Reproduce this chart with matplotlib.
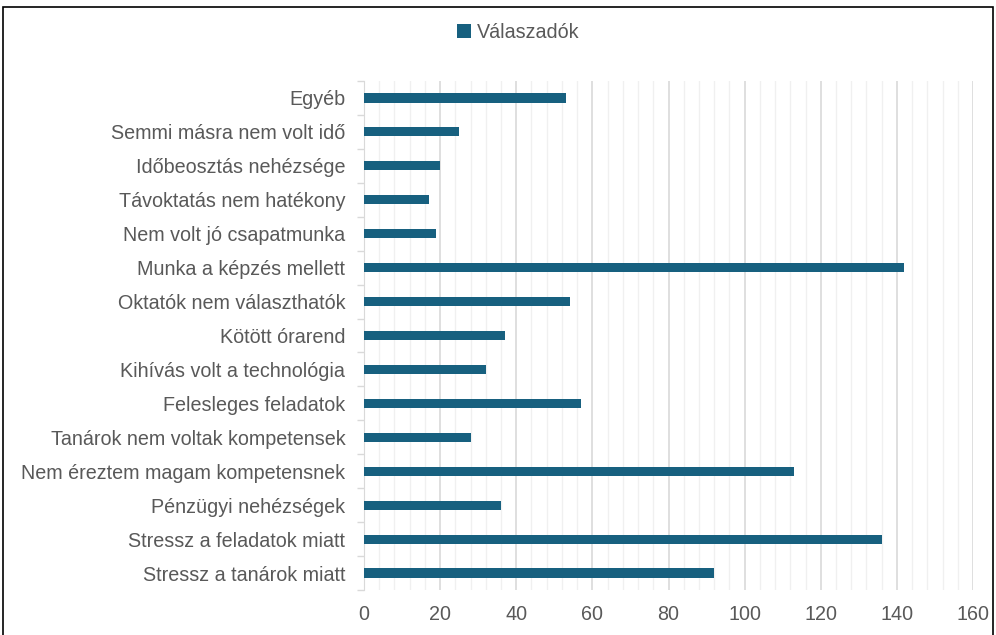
import matplotlib
matplotlib.use("Agg")
import matplotlib.pyplot as plt
from matplotlib.ticker import MultipleLocator
from matplotlib.patches import Rectangle
from matplotlib import font_manager as fm

names = [f.name for f in fm.fontManager.ttflist]
fam = "Liberation Sans Narrow" if "Liberation Sans Narrow" in names else "Liberation Sans"
plt.rcParams['font.family'] = [fam, 'DejaVu Sans']

categories = ["Egyéb", "Semmi másra nem volt idő", "Időbeosztás nehézsége",
              "Távoktatás nem hatékony", "Nem volt jó csapatmunka",
              "Munka a képzés mellett", "Oktatók nem választhatók",
              "Kötött órarend", "Kihívás volt a technológia",
              "Felesleges feladatok", "Tanárok nem voltak kompetensek",
              "Nem éreztem magam kompetensnek", "Pénzügyi nehézségek",
              "Stressz a feladatok miatt", "Stressz a tanárok miatt"]
values = [53, 25, 20, 17, 19, 142, 54, 37, 32, 57, 28, 113, 36, 136, 92]
series_name = "Válaszadók"
xticks = [0, 20, 40, 60, 80, 100, 120, 140, 160]

bar_color = "#17607f"
text_color = "#595959"

fig = plt.figure(figsize=(9.96, 6.35), dpi=100)
ax = fig.add_axes([364/996, 1-590/635, (973-364)/996, (590-81)/635])

ypos = list(range(len(categories)))
ax.barh(ypos, values, height=0.27, color=bar_color, label=series_name, zorder=3)
ax.set_ylim(len(categories)-0.5, -0.5)
ax.set_xlim(0, 160)
ax.set_xticks(xticks)
ax.xaxis.set_minor_locator(MultipleLocator(4))
ax.grid(axis='x', which='major', color='#d9d9d9', linewidth=1.2, zorder=0)
ax.grid(axis='x', which='minor', color='#f0f0f0', linewidth=1.0, zorder=0)
ax.set_axisbelow(True)

ax.set_yticks(ypos)
ax.set_yticklabels(categories)
ax.set_yticks([i + 0.5 for i in range(-1, len(categories))], minor=True)
ax.tick_params(axis='y', which='major', length=0, pad=13.5, labelsize=14.2, labelcolor=text_color)
ax.tick_params(axis='y', which='minor', length=5, color='#d9d9d9', width=1)
ax.tick_params(axis='x', which='both', length=0, pad=11, labelsize=14.2, labelcolor=text_color)

for s in ['top', 'right', 'bottom']:
    ax.spines[s].set_visible(False)
ax.spines['left'].set_color('#d9d9d9')

leg = fig.legend(loc='center', bbox_to_anchor=(518/996, 1-32/635), frameon=False,
                 fontsize=14.2, handlelength=0.7, handleheight=0.7, handletextpad=0.3)
for t in leg.get_texts():
    t.set_color(text_color)

fig.patches.append(Rectangle((3/996, -0.1), (993-3)/996, 1.1 - 7/635, transform=fig.transFigure,
                             fill=False, edgecolor='black', linewidth=1.2))

fig.savefig("out.png", dpi=100)
